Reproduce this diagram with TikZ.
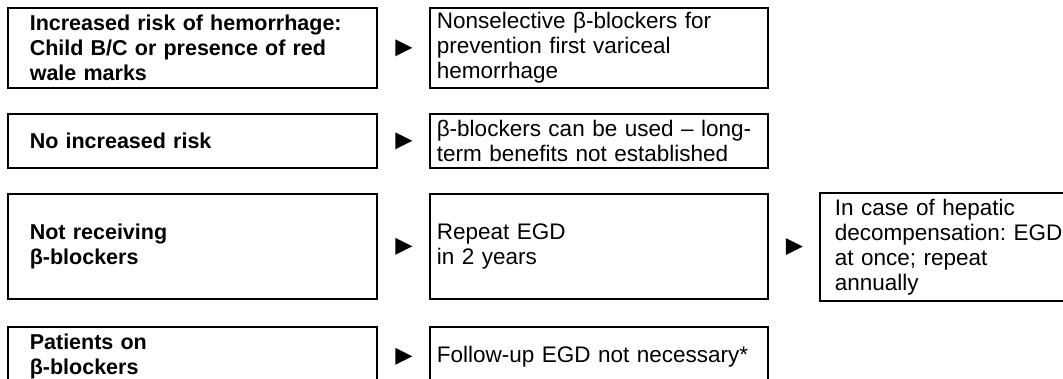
\documentclass[tikz,border=0pt]{standalone}
\usepackage{fontspec}
\setmainfont{Liberation Sans}
\usetikzlibrary{calc}
\frenchspacing

\begin{document}
\begin{tikzpicture}[x=1pt, y=-1pt,
	box/.style={draw, line width=1.6pt, rectangle, anchor=north west, align=left, inner ysep=0pt},
	leftbox/.style={box, font=\fontsize{21.5}{25}\selectfont\bfseries, text width=325pt, inner xsep=22pt, minimum height=#1},
	midbox/.style={box, font=\fontsize{22.5}{25}\selectfont, text width=324pt, inner xsep=7pt, minimum height=#1},
	rightbox/.style={box, font=\fontsize{22.5}{25}\selectfont, text width=241pt, inner xsep=15pt, minimum height=#1}]

	\useasboundingbox (0, 0) rectangle (1063, 378);
	\clip (0, 0) rectangle (1063, 378);

	\def\xl{7}   % colonne de gauche
	\def\xm{429} % colonne du milieu
	\def\xr{819} % colonne de droite

	\node[leftbox=80pt] (risk) at (\xl, 7) {Increased risk of hemorrhage:\\ Child B/C or presence of red\\ wale marks};
	\node[midbox=80pt] (nonsel) at (\xm, 7) {Nonselective β-blockers for\\ prevention first variceal\\ hemorrhage};

	\node[leftbox=54pt] (norisk) at (\xl, 113) {No increased risk};
	\node[midbox=54pt] (canuse) at (\xm, 113) {β-blockers can be used – long-\\ term benefits not established};

	\node[leftbox=105pt] (notrec) at (\xl, 193) {Not receiving\\ β-blockers};
	\node[midbox=105pt] (repeat) at (\xm, 193) {Repeat EGD\\ in 2 years};
	\node[rightbox=108pt] (hepatic) at (\xr, 192) {In case of hepatic\\ decompensation: EGD\\ at once; repeat\\ annually};

	\node[leftbox=59pt] (onbeta) at (\xl, 326) {Patients on\\ β-blockers};
	\node[midbox=59pt] (followup) at (\xm, 326) {Follow-up EGD not necessary*};

	% petits triangles entre les cases
	\foreach \a/\b in {risk/nonsel, norisk/canuse, notrec/repeat, onbeta/followup, repeat/hepatic} {
		\coordinate (mid) at ($(\a.east)!0.5!(\b.west)$);
		\fill ($(mid)+(-8, -8.5)$) -- ($(mid)+(9, 0)$) -- ($(mid)+(-8, 8.5)$) -- cycle;
	}

\end{tikzpicture}
\end{document}
